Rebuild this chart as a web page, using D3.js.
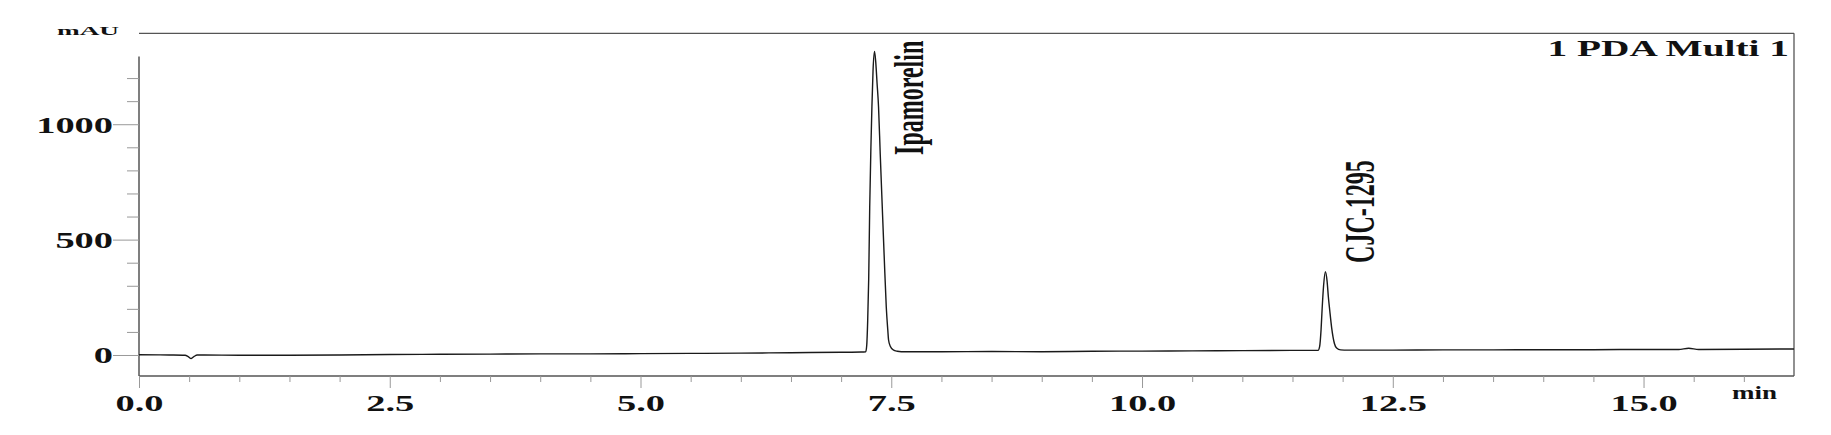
<!DOCTYPE html>
<html>
<head>
<meta charset="utf-8">
<script src="https://cdn.jsdelivr.net/npm/d3@7/dist/d3.min.js"></script>
<style>
  html, body { margin: 0; padding: 0; background: #fff; }
  svg { display: block; }
  text { font-family: "Liberation Serif", "Times New Roman", serif; font-weight: bold; fill: #111; }
</style>
</head>
<body>
<svg id="chart" width="1831" height="435"></svg>
<script>
// ---- data ----
const traceTime = [
  0.00, 0.30, 0.46, 0.49, 0.52, 0.55, 0.58, 0.65, 1.00, 1.50, 2.00, 2.50, 3.00, 3.50, 4.00, 4.50, 5.00, 5.50, 6.00, 6.50, 7.00, 7.20,
  7.245, 7.255, 7.265, 7.275, 7.285, 7.297, 7.307, 7.318, 7.333, 7.345, 7.358, 7.373, 7.39, 7.41, 7.43, 7.45, 7.465, 7.473, 7.49, 7.52, 7.56, 7.60,
  8.00, 8.50, 9.00, 9.50, 10.00, 10.50, 11.00, 11.50, 11.70, 11.755,
  11.77, 11.785, 11.795, 11.81, 11.828, 11.845, 11.858, 11.871, 11.89, 11.918, 11.94, 11.98, 12.05,
  12.50, 13.00, 13.50, 14.00, 14.50, 15.00, 15.35, 15.45, 15.55, 16.00, 16.50
];
const traceValue = [
  1, 0, -1, -7, -15, -6, 0, 0, -1, -1, 0, 2, 3, 4, 5, 5, 6, 7, 8, 10, 12, 13,
  14, 40, 150, 330, 640, 900, 1076, 1230, 1315, 1270, 1180, 1076, 870, 643, 420, 209, 110, 65, 38, 22, 16, 14,
  14, 15, 14, 16, 17, 18, 19, 20, 20, 20,
  35, 110, 195, 300, 361, 320, 250, 195, 120, 50, 30, 22, 21,
  21, 22, 22, 23, 23, 24, 24, 29, 24, 25, 26
];
const peakNames = ["Ipamorelin", "CJC-1295"];
const peakTimes = [7.333, 11.828];
const channelName = "1 PDA Multi 1";
const yUnit = "mAU";
const xUnit = "min";
const xMajorTicks = [0, 2.5, 5.0, 7.5, 10.0, 12.5, 15.0];
const xMinorTicks = d3.range(0, 16.5, 0.5);
const yMajorTicks = [0, 500, 1000];
const yMinorTicks = d3.range(100, 1300, 100);

// ---- layout ----
const svg = d3.select("#chart");
const mLeft = 139, mRight = 1794, mTop = 33.3, mBottom = 376;
const x = d3.scaleLinear().domain([0, 16.5]).range([mLeft, mRight]);
const y = d3.scaleLinear().domain([-91, 1394]).range([mBottom, mTop]);
const axisColor = "#555", tickColor = "#999";
const sx = 1.6;

// frame: top and right lines
svg.append("line").attr("x1", mLeft).attr("x2", mRight).attr("y1", mTop).attr("y2", mTop)
  .attr("stroke", axisColor).attr("stroke-width", 1.3);
svg.append("line").attr("x1", mRight).attr("x2", mRight).attr("y1", mTop).attr("y2", mBottom)
  .attr("stroke", axisColor).attr("stroke-width", 1.3);
// left axis line (stops below the top frame)
svg.append("line").attr("x1", mLeft).attr("x2", mLeft).attr("y1", y(1293)).attr("y2", mBottom)
  .attr("stroke", axisColor).attr("stroke-width", 1.5);
// bottom axis line
svg.append("line").attr("x1", mLeft).attr("x2", mRight).attr("y1", mBottom).attr("y2", mBottom)
  .attr("stroke", axisColor).attr("stroke-width", 1.5);

// y minor ticks
const gyMinor = svg.append("g").attr("transform", `translate(${mLeft},0)`)
  .call(d3.axisLeft(y).tickValues(yMinorTicks.filter(v => !yMajorTicks.includes(v))).tickSize(12).tickFormat(""));
gyMinor.select(".domain").remove();
gyMinor.selectAll("line").attr("stroke", tickColor);

// y major ticks
const gy = svg.append("g").attr("transform", `translate(${mLeft},0)`)
  .call(d3.axisLeft(y).tickValues(yMajorTicks).tickSize(26).tickFormat(d3.format("d")));
gy.attr("font-family", null).attr("font-size", null);
gy.select(".domain").remove();
gy.selectAll("line").attr("stroke", tickColor);
gy.selectAll("text")
  .attr("x", 0).attr("dy", null).attr("y", 0)
  .attr("transform", `translate(-26,8) scale(${sx},1)`)
  .attr("text-anchor", "end").attr("fill", null)
  .style("font-size", "24px");

// x minor ticks
const gxMinor = svg.append("g").attr("transform", `translate(0,${mBottom})`)
  .call(d3.axisBottom(x).tickValues(xMinorTicks.filter(v => !xMajorTicks.includes(v))).tickSize(6).tickFormat(""));
gxMinor.select(".domain").remove();
gxMinor.selectAll("line").attr("stroke", tickColor);

// x major ticks
const gx = svg.append("g").attr("transform", `translate(0,${mBottom})`)
  .call(d3.axisBottom(x).tickValues(xMajorTicks).tickSize(12).tickFormat(d3.format(".1f")));
gx.attr("font-family", null).attr("font-size", null);
gx.select(".domain").remove();
gx.selectAll("line").attr("stroke", tickColor);
gx.selectAll("text")
  .attr("y", 0).attr("dy", null)
  .attr("transform", `translate(0,35) scale(${sx},1)`)
  .attr("text-anchor", "middle").attr("fill", null)
  .style("font-size", "24px");

// trace
const pts = traceTime.map((t, i) => [t, traceValue[i]]);
const line = d3.line().x(d => x(d[0])).y(d => y(d[1])).curve(d3.curveMonotoneX);
svg.append("path").datum(pts).attr("d", line)
  .attr("fill", "none").attr("stroke", "#1a1a1a").attr("stroke-width", 1.4).attr("stroke-linejoin", "round");

// peak labels (rotated)
const labelShift = 48.5;              // px right of the apex
const labelStartValues = [867, 399];  // where each label text begins (bottom)
peakNames.forEach((name, i) => {
  svg.append("text")
    .attr("transform", `translate(${x(peakTimes[i]) + labelShift},${y(labelStartValues[i])}) scale(1.72,1) rotate(-90)`)
    .attr("text-anchor", "start")
    .style("font-size", "24px")
    .text(name);
});

// channel name
svg.append("text")
  .attr("transform", `translate(1789,56) scale(1.64,1)`)
  .attr("text-anchor", "end")
  .style("font-size", "24px")
  .text(channelName);

// units
svg.append("text")
  .attr("transform", `translate(88,35) scale(2.1,1)`)
  .attr("text-anchor", "middle")
  .style("font-size", "13px")
  .text(yUnit);
svg.append("text")
  .attr("transform", `translate(1754.5,399) scale(1.5,1)`)
  .attr("text-anchor", "middle")
  .style("font-size", "18px")
  .text(xUnit);
</script>
</body>
</html>
